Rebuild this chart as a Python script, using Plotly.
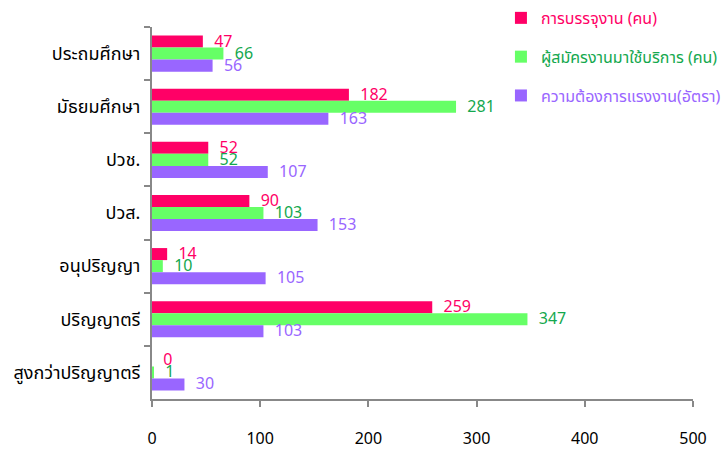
import plotly.graph_objects as go

levels = ["ประถมศึกษา", "มัธยมศึกษา", "ปวช.", "ปวส.", "อนุปริญญา", "ปริญญาตรี", "สูงกว่าปริญญาตรี"]
placed = [47, 182, 52, 90, 14, 259, 0]
applicants = [66, 281, 52, 103, 10, 347, 1]
vacancies = [56, 163, 107, 153, 105, 103, 30]

series = [
    ("การบรรจุงาน (คน)", placed, "#FF0066", "#FF0066"),
    ("ผู้สมัครงานมาใช้บริการ (คน)", applicants, "#66FF66", "#14A84E"),
    ("ความต้องการแรงงาน(อัตรา)", vacancies, "#9966FF", "#9966FF"),
]

FONT = "Tahoma, 'Noto Sans Thai', 'Noto Sans', sans-serif"

fig = go.Figure()
for i, (name, vals, bar_col, txt_col) in enumerate(series):
    fig.add_trace(go.Bar(
        y=levels, x=vals, orientation="h",
        name=f"<span style='color:{txt_col}'>{name}</span>",
        marker=dict(color=bar_col, line=dict(width=0)),
        text=[f"  {v}" for v in vals],
        textposition="outside",
        constraintext="none",
        textfont=dict(color=txt_col, size=16, family=FONT),
        cliponaxis=False,
        legendgroup=f"g{i}",
    ))

fig.update_layout(
    width=727, height=451,
    barmode="group", bargap=0.32, bargroupgap=0,
    plot_bgcolor="white", paper_bgcolor="white",
    margin=dict(l=152, r=34, t=27, b=52, autoexpand=False),
    font=dict(family=FONT, size=16, color="black"),
    showlegend=True,
    legend=dict(x=0.645, y=1.07, xanchor="left", yanchor="top",
                font=dict(size=16), tracegroupgap=15,
                itemwidth=30, bgcolor="rgba(0,0,0,0)"),
    xaxis=dict(range=[0, 500], dtick=100, showgrid=False, zeroline=False,
               showline=True, linecolor="#888888", linewidth=2,
               ticks="outside", ticklen=6, tickcolor="#888888", tickwidth=2,
               ticklabelstandoff=18, tickfont=dict(size=16)),
    yaxis=dict(autorange="reversed", showgrid=False, showline=True,
               linecolor="#888888", linewidth=2, ticks="outside",
               tickson="boundaries", ticklen=6, tickcolor="#888888", tickwidth=2,
               ticklabelstandoff=6, tickfont=dict(size=18)),
)

# drop the default body margin so the 727x451 figure fits the window exactly
fig.write_html("out.html", config={"displayModeBar": False},
               post_script="document.body.style.margin='0';")
